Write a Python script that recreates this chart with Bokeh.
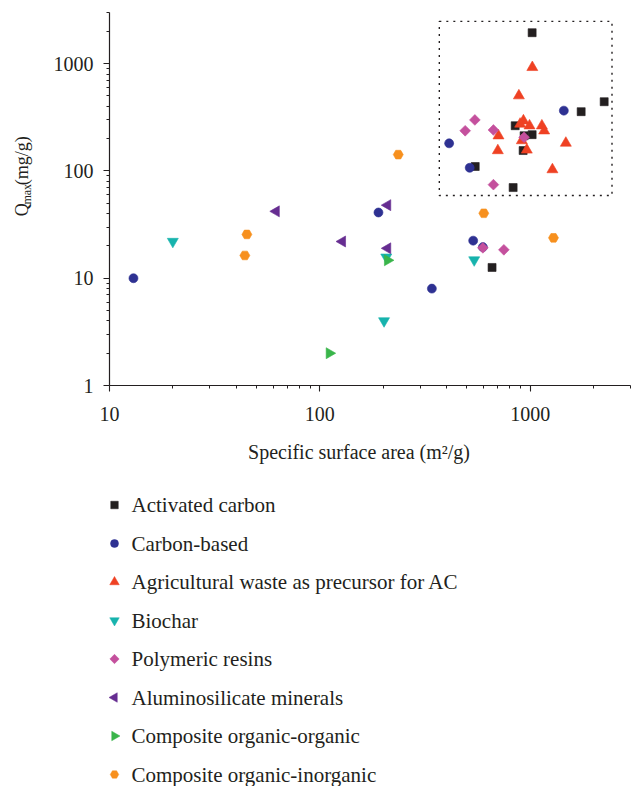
import numpy as np
from bokeh.plotting import figure
from bokeh.models import Range1d, FixedTicker, BasicTickFormatter
from bokeh.layouts import column, row
from bokeh.core.properties import value
from bokeh.embed import file_html
from bokeh.resources import INLINE

# ---------------- data ----------------
series_names = [
    "Activated carbon",
    "Carbon-based",
    "Agricultural waste as precursor for AC",
    "Biochar",
    "Polymeric resins",
    "Aluminosilicate minerals",
    "Composite organic-organic",
    "Composite organic-inorganic",
]

activated_x = [1022, 2249, 1748, 849, 936, 1022, 926, 548, 830, 659]
activated_y = [1945, 442, 357, 264, 213, 218, 155, 110, 70, 12.6]

carbon_x = [13, 190, 341, 536, 596, 516, 412, 1446]
carbon_y = [10, 41, 8, 22.4, 19.5, 107, 181, 365]

agri_x = [1024, 884, 929, 896, 993, 1137, 1166, 707, 913, 964, 702, 1478, 1276]
agri_y = [924, 503, 294, 274, 264, 264, 237, 213, 192, 157, 155, 182, 103]

biochar_x = [20, 207, 202, 542]
biochar_y = [22, 15.7, 4.0, 14.8]

poly_x = [546, 491, 669, 936, 669, 596, 750]
poly_y = [299, 237, 241, 206, 74.5, 19.2, 18.4]

alumino_x = [62, 210, 128, 210]
alumino_y = [42, 48, 22, 19]

comp_oo_x = [111, 210]
comp_oo_y = [2.0, 14.7]

comp_oi_x = [45, 44, 602, 1291, 236]
comp_oi_y = [25.6, 16.3, 40.3, 23.8, 142]

# dotted highlight box (data space)
box_x = [370, 2450]
box_y = [59, 2480]

x_limits = [10, 3000]
y_limits = [1, 3000]
x_major = [10, 100, 1000]
y_major = [1, 10, 100, 1000]
x_tick_labels = ["10", "100", "1000"]
y_tick_labels = ["1", "10", "100", "1000"]

x_title = "Specific surface area (m\u00b2/g)"
y_title_parts = ["Q", "max", "(mg/g)"]

# ---------------- styles ----------------
INK = "#231f20"
FONT = "Liberation Serif"
styles = [
    dict(marker="square", color="#231f20", size=8, lsize=7.5, angle=0.0),
    dict(marker="circle", color="#2e3192", size=9, lsize=8, angle=0.0),
    dict(marker="triangle", color="#ef4123", size=11, lsize=9.5, angle=0.0),
    dict(marker="inverted_triangle", color="#17b3ad", size=11, lsize=9.5, angle=0.0),
    dict(marker="square", color="#c4509d", size=7.6, lsize=6.6, angle=np.pi / 4),
    dict(marker="triangle", color="#662d91", size=11, lsize=9.5, angle=np.pi / 2),
    dict(marker="triangle", color="#39b54a", size=11, lsize=9.5, angle=-np.pi / 2),
    dict(marker="hex", color="#f7901e", size=10, lsize=8.5, angle=0.0),
]
series_data = [
    (activated_x, activated_y),
    (carbon_x, carbon_y),
    (agri_x, agri_y),
    (biochar_x, biochar_y),
    (poly_x, poly_y),
    (alumino_x, alumino_y),
    (comp_oo_x, comp_oo_y),
    (comp_oi_x, comp_oi_y),
]

# ---------------- layout geometry (pixels) ----------------
W, H = 634, 786
STRIP_W = 45          # strip on the left holding the rotated y title
MAIN_H = 430          # height of the main plot figure
FRAME_L, FRAME_R, FRAME_T, FRAME_B = 109, 630, 12, 385


def blank(width, height, yflip_height):
    f = figure(width=width, height=height, x_range=Range1d(0, width),
               y_range=Range1d(yflip_height, 0), output_backend="svg",
               toolbar_location=None, min_border=0,
               x_axis_location=None, y_axis_location=None)
    f.outline_line_color = None
    f.grid.visible = False
    f.background_fill_color = "white"
    f.border_fill_color = "white"
    return f


# ---------------- main plot ----------------
p = figure(width=W - STRIP_W, height=MAIN_H,
           x_axis_type="log", y_axis_type="log",
           x_range=Range1d(*x_limits), y_range=Range1d(*y_limits),
           output_backend="svg", toolbar_location=None,
           min_border_left=FRAME_L - STRIP_W, min_border_right=W - FRAME_R,
           min_border_top=FRAME_T, min_border_bottom=MAIN_H - FRAME_B)
p.background_fill_color = "white"
p.border_fill_color = "white"
p.outline_line_color = None
p.grid.visible = False


def minor_ticks(lo, hi):
    out = []
    for k in range(int(np.floor(np.log10(lo))), int(np.ceil(np.log10(hi))) + 1):
        for m in range(2, 10):
            v = m * 10.0 ** k
            if lo <= v <= hi * 1.0001:
                out.append(v)
    return out


p.xaxis.ticker = FixedTicker(ticks=x_major, minor_ticks=minor_ticks(*x_limits))
p.yaxis.ticker = FixedTicker(ticks=y_major, minor_ticks=minor_ticks(*y_limits))
p.xaxis.formatter = BasicTickFormatter(use_scientific=False)
p.yaxis.formatter = BasicTickFormatter(use_scientific=False)
p.xaxis.major_label_overrides = {v: s for v, s in zip(x_major, x_tick_labels)}
p.yaxis.major_label_overrides = {v: s for v, s in zip(y_major, y_tick_labels)}

for ax in (p.xaxis, p.yaxis):
    ax.axis_line_color = INK
    ax.axis_line_width = 1.2
    ax.major_tick_line_color = INK
    ax.minor_tick_line_color = INK
    ax.major_tick_line_width = 1.1
    ax.minor_tick_line_width = 1.0
    ax.major_tick_in = 0
    ax.minor_tick_in = 0
    ax.major_tick_out = 6
    ax.minor_tick_out = 3
    ax.major_label_text_font = FONT
    ax.major_label_text_font_size = "20px"
    ax.major_label_text_color = INK
    ax.axis_label = None
p.xaxis.major_label_standoff = 15
p.yaxis.major_label_standoff = 10

# dotted box
p.quad(left=[box_x[0]], right=[box_x[1]], bottom=[box_y[0]], top=[box_y[1]],
       fill_alpha=0, line_color=INK, line_width=1.4, line_dash="2 5")

for (xs, ys), st in zip(series_data, styles):
    p.scatter(x=xs, y=ys, marker=st["marker"], size=st["size"], angle=st["angle"],
              fill_color=st["color"], line_color=st["color"], line_width=0.6)

# ---------------- y title strip (rotated, pieces centred) ----------------
ys_fig = blank(STRIP_W, MAIN_H, MAIN_H)
ys_fig.text(x=[21], y=[227.5], text=[y_title_parts[0]], angle=np.pi / 2,
            text_font=value(FONT), text_font_size=value("18px"), text_color=INK,
            text_align="center", text_baseline="middle")
ys_fig.text(x=[26.5], y=[209.5], text=[y_title_parts[1]], angle=np.pi / 2,
            text_font=value(FONT), text_font_size=value("12px"), text_color=INK,
            text_align="center", text_baseline="middle")
ys_fig.text(x=[21], y=[171], text=[y_title_parts[2]], angle=np.pi / 2,
            text_font=value(FONT), text_font_size=value("18px"), text_color=INK,
            text_align="center", text_baseline="middle")

# ---------------- bottom: x title + legend ----------------
BOT_H = H - MAIN_H
bot = blank(W, BOT_H, BOT_H)
bot.text(x=[358.5], y=[451.5 - MAIN_H], text=[x_title],
         text_font=value(FONT), text_font_size=value("20px"), text_color=INK,
         text_align="center", text_baseline="middle")

LEG_Y0, LEG_STEP, LEG_MX, LEG_TX = 504.5 - MAIN_H, 38.5, 114, 131
for i, (name, st) in enumerate(zip(series_names, styles)):
    cy = LEG_Y0 + i * LEG_STEP
    bot.scatter(x=[LEG_MX], y=[cy], marker=st["marker"], size=st["lsize"], angle=st["angle"],
                fill_color=st["color"], line_color=st["color"], line_width=0.5)
    bot.text(x=[LEG_TX], y=[cy], text=[name],
             text_font=value(FONT), text_font_size=value("21px"), text_color=INK,
             text_align="left", text_baseline="middle")

layout = column(row(ys_fig, p), bot)
open("out.html", "w").write(file_html(layout, INLINE))
